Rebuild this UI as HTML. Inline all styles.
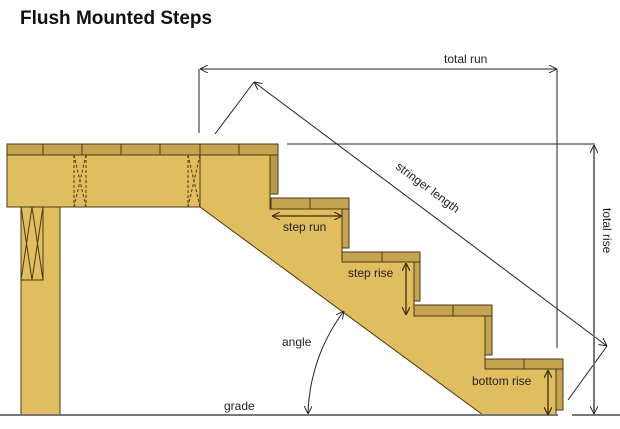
<!DOCTYPE html>
<html><head><style>
html,body{margin:0;padding:0;background:#fff;}
svg{display:block;font-family:"Liberation Sans",Arial,sans-serif;}
</style></head><body>
<svg width="620" height="429" viewBox="0 0 620 429">
<defs>
<marker id="a" viewBox="0 0 10 10" refX="10" refY="5" markerWidth="8" markerHeight="8" orient="auto-start-reverse" markerUnits="userSpaceOnUse"><path d="M0,0 L10,5 L0,10" fill="none" stroke="#222" stroke-width="1.2"/></marker>
<marker id="b" viewBox="0 0 10 10" refX="10" refY="5" markerWidth="8" markerHeight="8" orient="auto-start-reverse" markerUnits="userSpaceOnUse"><path d="M0,0 L10,5 L0,10" fill="none" stroke="#3a2e10" stroke-width="1.5"/></marker>
</defs>
<text x="20" y="24" font-size="19" font-weight="bold" fill="#111">Flush Mounted Steps</text>
<!-- stringer -->
<polygon points="200,207 200,155 270,155 270,209 342,209 342,262 414,262 414,316 485,316 485,369 556,369 556,415 483,415" fill="#e0bd5e" stroke="#4a3a14" stroke-width="1"/>
<!-- post -->
<rect x="21" y="207" width="39" height="208" fill="#e0bd5e" stroke="#4a3a14"/>
<rect x="21" y="207" width="22" height="73" fill="#e0bd5e" stroke="#4a3a14"/>
<path d="M21,207 L32,280 L43,207 M21,280 L32,207 L43,280" stroke="#4a3a14" fill="none"/>
<!-- rim joist -->
<rect x="7" y="155" width="193" height="52" fill="#e0bd5e" stroke="#4a3a14"/>
<path d="M74,155 L86,207 M86,155 L74,207 M74,155 V207 M86,155 V207 M188,155 L200,207 M200,155 L188,207 M188,155 V207" stroke="#4a3a14" fill="none" stroke-dasharray="3,2"/>
<!-- fascia -->
<rect x="270" y="155" width="8" height="39" fill="#b89a48" stroke="#4a3a14"/>
<!-- deck boards -->
<rect x="7" y="144" width="271" height="11" fill="#c4a450" stroke="#4a3a14"/>
<path d="M43,144V155M82,144V155M121,144V155M160,144V155M200,144V155M239,144V155" stroke="#4a3a14"/>
<!-- treads and risers -->
<g fill="#c4a450" stroke="#4a3a14">
<rect x="271" y="198" width="78" height="11"/><rect x="342" y="209" width="7" height="39"/>
<rect x="342" y="252" width="78" height="10"/><rect x="414" y="262" width="6" height="39"/>
<rect x="414" y="305" width="78" height="11"/><rect x="485" y="316" width="7" height="39"/>
<rect x="485" y="359" width="78" height="10"/><rect x="556" y="369" width="7" height="41"/>
</g>
<path d="M310,198V209M382,252V262M453,305V316M524,359V369" stroke="#4a3a14"/>
<!-- grade -->
<line x1="0" y1="415" x2="620" y2="415" stroke="#777" stroke-width="2"/>
<rect x="558" y="411" width="14" height="6" fill="#fff"/>
<!-- dimension lines -->
<g stroke="#222" stroke-width="1" fill="none">
<line x1="200" y1="69" x2="557" y2="69" marker-start="url(#a)" marker-end="url(#a)"/>
<line x1="199" y1="69" x2="199" y2="133"/>
<line x1="557" y1="69" x2="557" y2="348"/>
<line x1="287" y1="144" x2="595" y2="144"/>
<line x1="215" y1="134" x2="254" y2="82"/>
<line x1="254" y1="82" x2="607" y2="346" marker-start="url(#a)" marker-end="url(#a)"/>
<line x1="607" y1="346" x2="568" y2="400"/>
<path d="M308,414 A178,178 0 0 1 344,311" marker-start="url(#a)" marker-end="url(#a)"/>
</g>
<g stroke="#3a2e10" stroke-width="1.3" fill="none">
<line x1="272" y1="216" x2="342" y2="216" marker-start="url(#b)" marker-end="url(#b)"/>
<line x1="406" y1="263" x2="406" y2="315" marker-start="url(#b)" marker-end="url(#b)"/>
<line x1="548" y1="370" x2="548" y2="415" marker-start="url(#b)" marker-end="url(#b)"/>
</g>
<line x1="594" y1="145" x2="594" y2="414" stroke="#777" stroke-width="2" marker-start="url(#a)" marker-end="url(#a)"/>
<line x1="573" y1="415" x2="600" y2="415" stroke="#777" stroke-width="2"/>
<!-- labels -->
<g font-size="12" fill="#222">
<text x="444" y="63">total run</text>
<text x="283" y="231">step run</text>
<text x="348" y="277">step rise</text>
<text x="472" y="385">bottom rise</text>
<text x="282" y="346">angle</text>
<text x="224" y="410">grade</text>
<text transform="translate(603,208) rotate(90)">total rise</text>
<text transform="translate(395,168) rotate(36.8)">stringer length</text>
</g>
</svg>
</body></html>
